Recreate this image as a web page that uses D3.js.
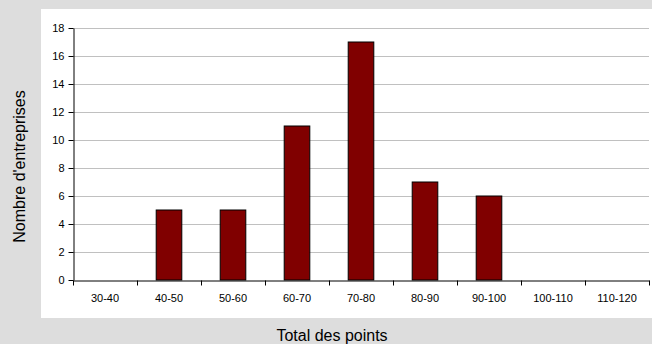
<!DOCTYPE html>
<html><head><meta charset="utf-8">
<script src="https://cdn.jsdelivr.net/npm/d3@7"></script>
<style>html,body{margin:0;padding:0;background:#dddddd;}svg{display:block;}</style>
</head><body>
<script>
const categories = ["30-40","40-50","50-60","60-70","70-80","80-90","90-100","100-110","110-120"];
const values = [0,5,5,11,17,7,6,0,0];
const yTicks = [0,2,4,6,8,10,12,14,16,18];
const yTitle = "Nombre d'entreprises";
const xTitle = "Total des points";

const W = 652, H = 344;
const svg = d3.select("body").append("svg").attr("width", W).attr("height", H)
  .style("font-family", "'Liberation Sans', Arial, sans-serif");
svg.append("rect").attr("width", W).attr("height", H).attr("fill", "#dddddd");
svg.append("rect").attr("x", 41).attr("y", 9).attr("width", W - 41).attr("height", 309).attr("fill", "#ffffff");

const x = d3.scaleBand().domain(categories).range([73, 649]).paddingInner(0.6).paddingOuter(0.3);
const xb = d3.scaleBand().domain(categories).range([73, 649]);
const y = d3.scaleLinear().domain([0, 18]).range([280, 28]);

// gridlines
svg.append("g").selectAll("line").data(yTicks.filter(d => d > 0)).join("line")
  .attr("x1", 73).attr("x2", 649)
  .attr("y1", d => y(d) + 0.5).attr("y2", d => y(d) + 0.5)
  .attr("stroke", "#c0c0c0").attr("stroke-width", 1);

// bars
svg.append("g").selectAll("rect").data(categories.map((c, i) => ({c, v: values[i]})).filter(d => d.v > 0)).join("rect")
  .attr("x", d => xb(d.c) + (xb.bandwidth() - 25.6) / 2)
  .attr("width", 25.6)
  .attr("y", d => y(d.v))
  .attr("height", d => y(0) - y(d.v))
  .attr("fill", "#800000").attr("stroke", "#000").attr("stroke-width", 1);

// y axis
const yAxis = d3.axisLeft(y).tickValues(yTicks).tickSize(5).tickPadding(4).tickSizeOuter(0);
const gy = svg.append("g").attr("transform", "translate(73.5,0)").call(yAxis);
gy.select(".domain").attr("stroke", "#000");
gy.selectAll(".tick line").attr("stroke", "#000");
gy.selectAll(".tick text").attr("font-size", 11).attr("fill", "#000").attr("font-family", "'Liberation Sans', Arial, sans-serif");

// x axis
const xAxis = d3.axisBottom(xb).tickSize(0).tickPadding(14).tickSizeOuter(0);
const gx = svg.append("g").attr("transform", "translate(0,280.5)").call(xAxis);
gx.select(".domain").attr("stroke", "#000");
gx.selectAll(".tick text").attr("font-size", 11).attr("fill", "#000").attr("font-family", "'Liberation Sans', Arial, sans-serif");
// category separators ticks
gx.append("g").selectAll("line").data(categories.map(c => xb(c)).concat([xb(categories[categories.length-1]) + xb.bandwidth()])).join("line")
  .attr("x1", d => Math.round(d) + 0.5).attr("x2", d => Math.round(d) + 0.5)
  .attr("y1", 0).attr("y2", 5).attr("stroke", "#000");

// titles
svg.append("text").attr("x", 332).attr("y", 341).attr("text-anchor", "middle")
  .attr("font-size", 16).attr("fill", "#000").text(xTitle);
svg.append("text").attr("transform", "translate(25,166.5) rotate(-90)").attr("text-anchor", "middle")
  .attr("font-size", 16).attr("fill", "#000").text(yTitle);
</script>
</body></html>
